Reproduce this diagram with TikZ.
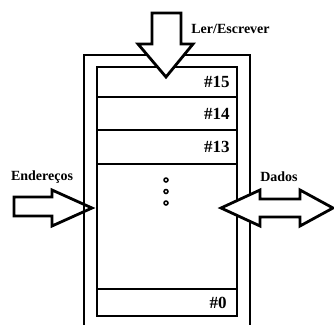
\documentclass[tikz,border=0pt]{standalone}
\usepackage{fontspec}
\setmainfont{Liberation Serif}
\begin{document}
\begin{tikzpicture}[x=1pt,y=-1pt,line width=2.8pt,inner sep=0pt,
    font=\bfseries\fontsize{14}{16}\selectfont,
    cell/.style={anchor=east,font=\bfseries\fontsize{17}{19}\selectfont},
    blockarrow/.style={draw,fill=white,line join=miter}]
	\useasboundingbox (0,0) rectangle (334,324);
	% address arrow, under the case
	\draw[blockarrow] (14,197) -- (52,197) -- (52,190) -- (92,208) -- (52,226) -- (52,216) -- (14,216) -- cycle;
	% case and memory words
	\draw (84,330) -- (84,55) -- (250,55) -- (250,330);
	\draw (97,67) rectangle (237,316);
	\foreach \y in {97,130,164,289}
		\draw[line width=2.5pt] (97,\y) -- (237,\y);
	\foreach \y in {180,191.5,203}
		\draw[line width=1.5pt] (166,\y) circle (2pt);
	% read/write and data arrows
	\draw[blockarrow] (152,13) -- (181,13) -- (181,44) -- (193,44) -- (166,77) -- (138,44) -- (152,44) -- cycle;
	\draw[blockarrow] (221,208) -- (260,190) -- (260,199) -- (300,199) -- (300,190) -- (333,208)
		-- (300,226) -- (300,217) -- (260,217) -- (260,226) -- cycle;
	% labels
	\node[anchor=west] (rw) at (190,29) {Ler/Escrever};
	\node (addr) at (42,177) {Endereços};
	\node (data) at (279,177) {Dados};
	\node[cell] (w15) at (231,82) {\#15};
	\node[cell] (w14) at (231,114) {\#14};
	\node[cell] (w13) at (231,147) {\#13};
	\node[cell] (w0) at (228,303) {\#0};
\end{tikzpicture}
\end{document}
